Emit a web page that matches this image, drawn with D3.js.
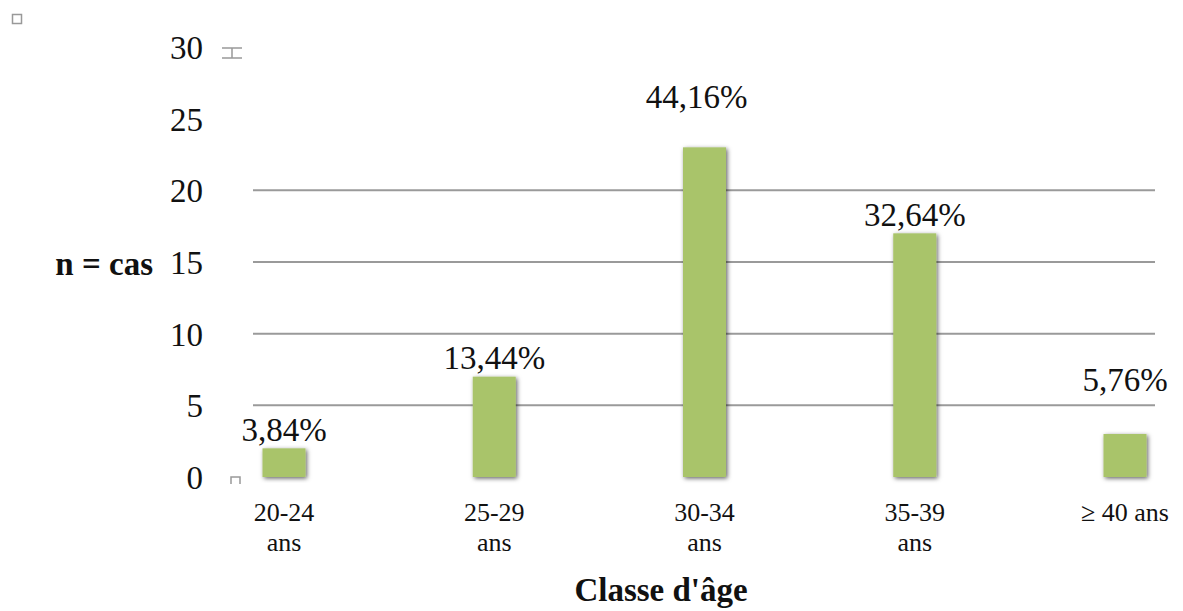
<!DOCTYPE HTML>
<html>
<meta charset="utf-8">
<title>Classe d'âge</title>
<script src="https://d3js.org/d3.v7.min.js"></script>
<style>
	body { margin: 0; background: #fff; }
	text { font-family: "Liberation Serif", "Times New Roman", serif; fill: #111; }
</style>
<body>
<svg id="chart" width="1183" height="611"></svg>
<script type="text/javascript">

// data
var categories = ["20-24 ans", "25-29 ans", "30-34 ans", "35-39 ans", "\u2265 40 ans"];
var counts = [2, 7, 23, 17, 3];
var percents = ["3,84%", "13,44%", "44,16%", "32,64%", "5,76%"];
var yTicks = [0, 5, 10, 15, 20, 25, 30];
var gridTicks = [5, 10, 15, 20];

var svg = d3.select("#chart");

var y = d3.scaleLinear().domain([0, 30]).range([477, 47]);
var x = d3.scalePoint().domain(categories).range([284, 1125]);
var barW = 43;

// soft shadow like the office chart
var defs = svg.append("defs");
var f = defs.append("filter").attr("id", "shadow")
	.attr("x", "-30%").attr("y", "-10%").attr("width", "160%").attr("height", "130%");
f.append("feDropShadow").attr("dx", 1.5).attr("dy", 1.5).attr("stdDeviation", 2.2)
	.attr("flood-color", "#000").attr("flood-opacity", 0.6);

// grid lines
svg.append("g").selectAll("line").data(gridTicks).enter().append("line")
	.attr("x1", 253).attr("x2", 1155)
	.attr("y1", function(d){ return y(d); })
	.attr("y2", function(d){ return y(d); })
	.attr("stroke", "#9a9a9a").attr("stroke-width", 2);

// y axis labels
svg.append("g").selectAll("text").data(yTicks).enter().append("text")
	.attr("x", 203)
	.attr("y", function(d){ return y(d) + 12; })
	.attr("text-anchor", "end")
	.style("font-size", "33px")
	.text(function(d){ return d; });

// bars
svg.append("g").selectAll("rect").data(counts).enter().append("rect")
	.attr("x", function(d, i){ return x(categories[i]) - barW / 2; })
	.attr("y", function(d){ return y(d); })
	.attr("width", barW)
	.attr("height", function(d){ return y(0) - y(d); })
	.attr("fill", "#a9c46a")
	.attr("filter", "url(#shadow)");

// percentage labels (two of them were moved up by hand in the original)
var labelLift = [7, 8, 39, 7, 43];
var labelShift = [0, 0, -8, 0, 0];
svg.append("g").selectAll("text").data(percents).enter().append("text")
	.attr("x", function(d, i){ return x(categories[i]) + labelShift[i]; })
	.attr("y", function(d, i){ return y(counts[i]) - labelLift[i]; })
	.attr("text-anchor", "middle")
	.style("font-size", "33px")
	.text(function(d){ return d; });

// category labels, wrapped on the space before "ans"
var cat = svg.append("g").selectAll("text").data(categories).enter().append("text")
	.attr("x", function(d){ return x(d); })
	.attr("y", 521)
	.attr("text-anchor", "middle")
	.style("font-size", "26px");
cat.each(function(d){
	var t = d3.select(this);
	if (d.charAt(0) == "\u2265") {
		t.text(d);
	} else {
		var parts = d.split(" ");
		t.append("tspan").attr("x", x(d)).text(parts[0]);
		t.append("tspan").attr("x", x(d)).attr("dy", 30).text(parts[1]);
	}
});

// axis titles
svg.append("text")
	.attr("x", 661).attr("y", 601)
	.attr("text-anchor", "middle")
	.style("font-size", "33px").style("font-weight", "bold")
	.text("Classe d'\u00e2ge");
svg.append("text")
	.attr("x", 153).attr("y", 275)
	.attr("text-anchor", "end")
	.style("font-size", "33px").style("font-weight", "bold")
	.text("n = cas");

// little handle glyphs left over in the source
var h = svg.append("g").attr("stroke", "#999").attr("fill", "none").attr("stroke-width", 1.5);
h.append("rect").attr("x", 12.5).attr("y", 14.5).attr("width", 9).attr("height", 9);
h.append("path").attr("d", "M222,48H242M222,58H242M232,48V58");
h.append("path").attr("d", "M231,484V477H240V484");

</script>
</body>
</html>
